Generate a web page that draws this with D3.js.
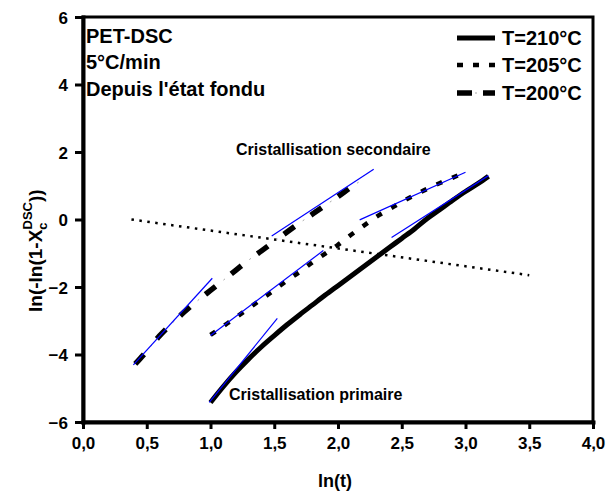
<!DOCTYPE html>
<html><head><meta charset="utf-8">
<script src="https://cdn.jsdelivr.net/npm/d3@7"></script>
<style>body{margin:0;background:#fff}svg{display:block}</style>
</head><body><svg id="c" width="608" height="493"></svg>
<script>
// ---- data ----
const xTickValues = [0, 0.5, 1, 1.5, 2, 2.5, 3, 3.5, 4];
const yTickValues = [-6, -4, -2, 0, 2, 4, 6];
const seriesNames = ["T=210°C", "T=205°C", "T=200°C"];
const annotations = ["PET-DSC", "5°C/min", "Depuis l'état fondu"];

const lnt210 = [1.0,1.1,1.2,1.3,1.4,1.5,1.6,1.7,1.8,1.9,2.0,2.1,2.2,2.3,2.4,2.5,2.6,2.7,2.8,2.9,3.0,3.1,3.18];
const y210   = [-5.42,-4.95,-4.52,-4.13,-3.77,-3.44,-3.12,-2.82,-2.53,-2.24,-1.96,-1.68,-1.40,-1.12,-0.84,-0.56,-0.28,0.03,0.30,0.57,0.83,1.07,1.28];

const lnt205 = [1.0,1.1,1.2,1.3,1.4,1.5,1.6,1.7,1.8,1.9,2.0,2.1,2.2,2.3,2.4,2.5,2.6,2.7,2.8,2.9,2.97];
const y205   = [-3.42,-3.16,-2.9,-2.63,-2.36,-2.09,-1.81,-1.55,-1.27,-1.01,-0.75,-0.46,-0.19,0.08,0.30,0.52,0.72,0.91,1.08,1.24,1.36];

const lnt200 = [0.41,0.5,0.6,0.7,0.8,0.9,1.0,1.1,1.2,1.3,1.4,1.5,1.6,1.7,1.8,1.9,2.0,2.1,2.2];
const y200   = [-4.28,-3.9,-3.45,-3.07,-2.72,-2.4,-2.1,-1.8,-1.5,-1.2,-0.93,-0.65,-0.37,-0.1,0.16,0.42,0.68,0.95,1.2];

const refLineX = [0.38, 3.5];
const refLineY = [0.0, -1.65];

// linear fits (blue): [x1, y1, x2, y2]
const fit210Primary   = [0.99, -5.42, 1.524, -2.93];
const fit210Secondary = [2.42, -0.53, 3.18, 1.30];
const fit205Primary   = [1.0, -3.44, 1.885, -0.92];
const fit205Secondary = [2.17, -0.01, 3.0, 1.40];
const fit200Primary   = [0.395, -4.31, 1.014, -1.74];
const fit200Secondary = [1.48, -0.49, 2.28, 1.49];

// ---- drawing ----
const FONT = "'Liberation Sans', Arial, Helvetica, sans-serif";
const svg = d3.select("#c").style("font-family", FONT);
const x = d3.scaleLinear().domain([0, 4]).range([83, 593]);
const y = d3.scaleLinear().domain([-6, 6]).range([422, 17]);
const fmt = d => d3.format(".1f")(d).replace(".", ",");

// frame
svg.append("rect").attr("x", x(0)).attr("y", y(6)).attr("width", x(4) - x(0)).attr("height", y(-6) - y(6))
  .attr("fill", "none").attr("stroke", "#000").attr("stroke-width", 3);

// axes
const gx = svg.append("g").attr("transform", `translate(0,${y(-6)})`)
  .call(d3.axisBottom(x).tickValues(xTickValues).tickFormat(fmt).tickSize(7).tickSizeOuter(0).tickPadding(8));
const gy = svg.append("g").attr("transform", `translate(${x(0)},0)`)
  .call(d3.axisLeft(y).tickValues(yTickValues).tickFormat(d3.format("d")).tickSize(8).tickSizeOuter(0).tickPadding(7));
[gx, gy].forEach(g => {
  g.select(".domain").attr("stroke-width", 4).attr("stroke-linecap", "square");
  g.selectAll(".tick line").attr("stroke-width", 3);
  g.selectAll("text").attr("font-family", FONT).attr("font-weight", "bold").attr("fill", "#000");
});
gx.selectAll("text").attr("font-size", 17);
gy.selectAll("text").attr("font-size", 17).attr("dy", "0.36em");

const line = d3.line().x(d => x(d[0])).y(d => y(d[1]));
const lineSmooth = d3.line().x(d => x(d[0])).y(d => y(d[1])).curve(d3.curveMonotoneX);
const zip = (a, b) => a.map((v, i) => [v, b[i]]);

// reference dotted line
svg.append("path").datum(zip(refLineX, refLineY)).attr("d", line)
  .attr("fill", "none").attr("stroke", "#000").attr("stroke-width", 2.5).attr("stroke-dasharray", "2.5,5.5");

// series
svg.append("path").datum(zip(lnt210, y210)).attr("d", lineSmooth)
  .attr("fill", "none").attr("stroke", "#000").attr("stroke-width", 5);
svg.append("path").datum(zip(lnt205, y205)).attr("d", lineSmooth)
  .attr("fill", "none").attr("stroke", "#000").attr("stroke-width", 4.5).attr("stroke-dasharray", "6,11");
svg.append("path").datum(zip(lnt200, y200)).attr("d", lineSmooth)
  .attr("fill", "none").attr("stroke", "#000").attr("stroke-width", 5.5).attr("stroke-dasharray", "13,20");
svg.append("path").datum(zip(lnt200, y200)).attr("d", lineSmooth)
  .attr("fill", "none").attr("stroke", "#aaa").attr("stroke-width", 1).attr("stroke-dasharray", "2,31").attr("stroke-dashoffset", 10);

// blue fits
[fit210Primary, fit210Secondary, fit205Primary, fit205Secondary, fit200Primary, fit200Secondary].forEach(f => {
  svg.append("path").datum([[f[0], f[1]], [f[2], f[3]]]).attr("d", line)
    .attr("fill", "none").attr("stroke", "#0000ff").attr("stroke-width", 1.2);
});

// annotations top-left
annotations.forEach((t, i) => {
  svg.append("text").attr("x", 86).attr("y", 43 + i * 26.3).text(t)
    .attr("font-size", 20).attr("font-weight", "bold");
});

// legend
const legY = [38, 65, 93];
const legStyles = [
  {w: 5, dash: null},
  {w: 4.5, dash: "6,10"},
  {w: 5.5, dash: "15,11"}
];
seriesNames.forEach((n, i) => {
  const l = svg.append("line").attr("x1", 457).attr("x2", 495).attr("y1", legY[i]).attr("y2", legY[i])
    .attr("stroke", "#000").attr("stroke-width", legStyles[i].w);
  if (legStyles[i].dash) l.attr("stroke-dasharray", legStyles[i].dash);
  svg.append("text").attr("x", 502).attr("y", legY[i] + 7).text(n)
    .attr("font-size", 20).attr("font-weight", "bold");
});
svg.append("line").attr("x1", 475).attr("x2", 477).attr("y1", legY[2]).attr("y2", legY[2])
  .attr("stroke", "#aaa").attr("stroke-width", 1);

// inner labels
svg.append("text").attr("x", 236).attr("y", 155).text("Cristallisation secondaire")
  .attr("font-size", 16).attr("font-weight", "bold");
svg.append("text").attr("x", 229).attr("y", 400).text("Cristallisation primaire")
  .attr("font-size", 16).attr("font-weight", "bold");

// axis titles
svg.append("text").attr("x", 335).attr("y", 487).attr("text-anchor", "middle").text("ln(t)")
  .attr("font-size", 18).attr("font-weight", "bold");

const yt = svg.append("text").attr("transform", "translate(42,312) rotate(-90)")
  .attr("font-size", 19).attr("font-weight", "bold");
yt.append("tspan").text("ln(-ln(1-X");
yt.append("tspan").text("c").attr("font-size", 13).attr("dy", 5);
yt.append("tspan").text("DSC").attr("font-size", 13).attr("dx", -7).attr("dy", -15);
yt.append("tspan").text("))").attr("dy", 10);
</script>
</body></html>
